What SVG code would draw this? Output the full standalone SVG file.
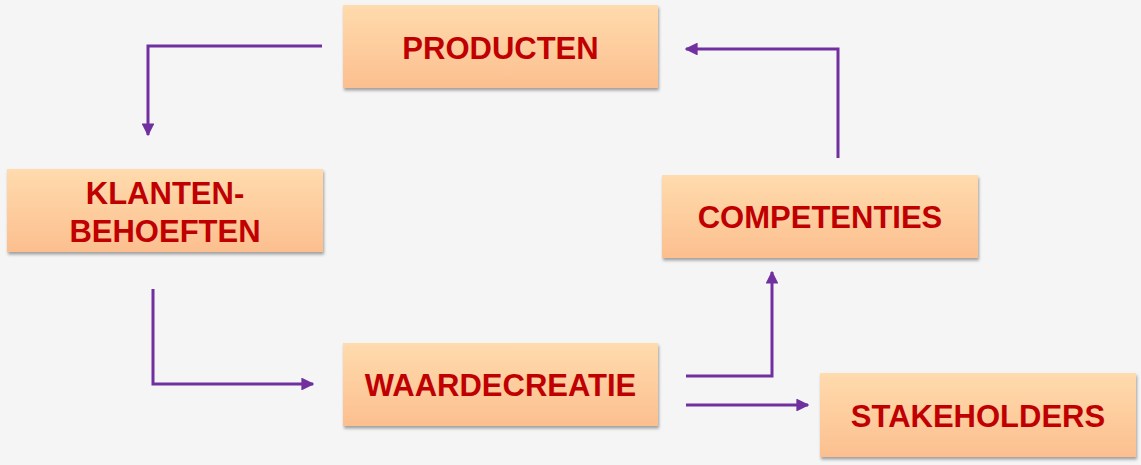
<svg xmlns="http://www.w3.org/2000/svg" width="1141" height="465" viewBox="0 0 1141 465">
<defs>
<linearGradient id="g" x1="0" y1="0" x2="0" y2="1">
<stop offset="0" stop-color="#FFDBAD"/>
<stop offset="1" stop-color="#FCBF8F"/>
</linearGradient>
<filter id="sh" x="-5%" y="-10%" width="115%" height="130%">
<feDropShadow dx="1" dy="2.5" stdDeviation="1.5" flood-color="#000" flood-opacity="0.35"/>
</filter>
<marker id="ah" viewBox="0 0 10 10" refX="9" refY="5" markerWidth="4.3" markerHeight="4.3" orient="auto" markerUnits="strokeWidth">
<path d="M0,0 L10,5 L0,10 Z" fill="#7030A0"/>
</marker>
<style>
.box{fill:url(#g);filter:url(#sh);}
.lbl{font-family:"Liberation Sans",Arial,sans-serif;font-weight:bold;font-size:31px;fill:#C00000;text-anchor:middle;}
.con{fill:none;stroke:#7030A0;stroke-width:3;marker-end:url(#ah);}
</style>
</defs>
<rect width="1141" height="465" fill="#F5F5F5"/>
<g id="connectors">
<path class="con" d="M322,46 H148 V135"/>
<path class="con" d="M838,158 V49 H686"/>
<path class="con" d="M153,289 V384 H313"/>
<path class="con" d="M686,376 H772 V272"/>
<path class="con" d="M686,405 H808"/>
</g>
<g id="producten">
<rect class="box" x="343" y="5" width="315" height="83"/>
<text class="lbl" x="500.5" y="58.5">PRODUCTEN</text>
</g>
<g id="klantenbehoeften">
<rect class="box" x="7" y="169" width="316" height="83"/>
<text class="lbl" x="165" y="204">KLANTEN-</text>
<text class="lbl" x="165" y="242">BEHOEFTEN</text>
</g>
<g id="competenties">
<rect class="box" x="662" y="175" width="316" height="83"/>
<text class="lbl" x="820" y="228">COMPETENTIES</text>
</g>
<g id="waardecreatie">
<rect class="box" x="343" y="343" width="315" height="83"/>
<text class="lbl" x="500.5" y="396">WAARDECREATIE</text>
</g>
<g id="stakeholders">
<rect class="box" x="820" y="373" width="316" height="84"/>
<text class="lbl" x="978" y="426.5">STAKEHOLDERS</text>
</g>
</svg>
